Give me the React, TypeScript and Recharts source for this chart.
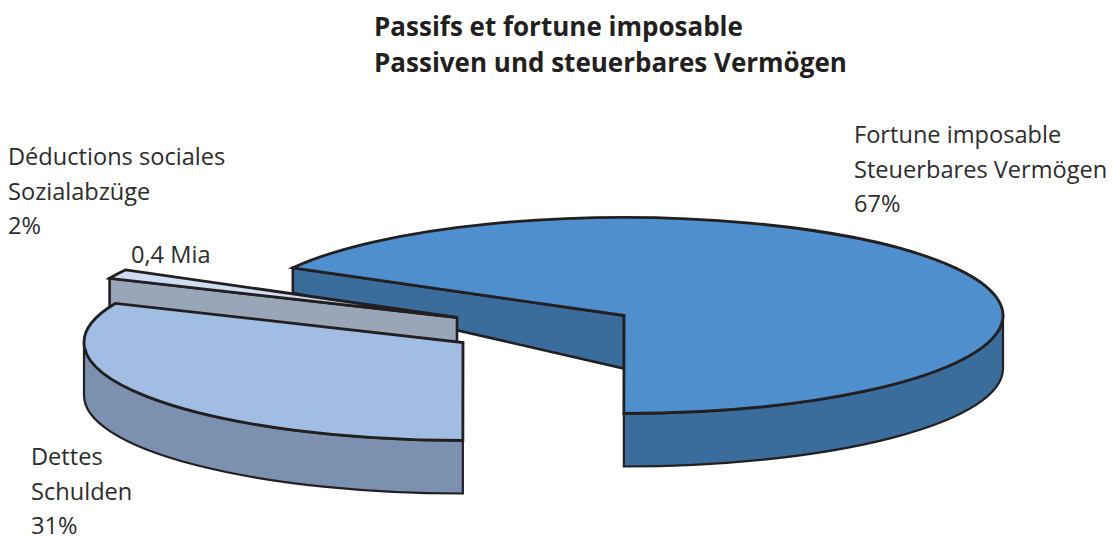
import React from 'react';
import { PieChart, Pie } from 'recharts';

// ---- data
const sliceNames = ['Fortune', 'Dettes', 'Deductions'];
const sliceValues = [17.4, 8.2, 0.4];
const valueLabels = ['17,4 Mia', '8,2 Mia', '0,4 Mia'];
const titleLines = ['Passifs et fortune imposable', 'Passiven und steuerbares Vermögen'];
const fortuneLines = ['Fortune imposable', 'Steuerbares Vermögen', '67%'];
const dettesLines = ['Dettes', 'Schulden', '31%'];
const deductionLines = ['Déductions sociales', 'Sozialabzüge', '2%'];

const chartData = sliceNames.map((name, i) => ({ name, value: sliceValues[i] }));

// ---- styling / layout
const W = 1118;
const H = 536;
const INK = '#231f20';
const TEXT = '#2d2c2e';
const FONT = '"Open Sans", "Noto Sans", sans-serif';
const CX = 624;
const CY = 315.5;
const RX = 379;
const RY = 98;
const DEPTH = 53;
const styles: Record<string, any> = {
  Fortune: { dx: 0, dy: 0, top: '#4f8fcd', side: '#3a6c9c', cut: { rear: 25, vertex: 53 } },
  Dettes: { dx: -161, dy: 27, top: '#a2bde3', side: '#7b91af', cut: null },
  Deductions: { dx: -167, dy: 2, top: '#cfddf2', side: '#99a6b8', cut: { rear: 28, vertex: 26 } },
};

const rad = (a: number) => (a * Math.PI) / 180;

const makeShape = (only: string) => (props: any) => {
  const { index, startAngle, endAngle, cx, cy } = props;
  const key = sliceNames[index];
  if (key !== only) return <g />;
  const s = styles[key];
  const ox = cx + s.dx;
  const oy = cy + s.dy;
  const pt = (a: number, extra = 0) =>
    [ox + RX * Math.cos(rad(a)), oy - RY * Math.sin(rad(a)) + extra] as const;
  const [sx, sy] = pt(startAngle);
  const [ex, ey] = pt(endAngle);
  const large = Math.abs(startAngle - endAngle) > 180 ? 1 : 0;
  const topPath = `M${ox},${oy} L${sx},${sy} A${RX},${RY} 0 ${large} 1 ${ex},${ey} Z`;

  let lo = endAngle;
  while (lo < 0) lo += 360;
  const hi = lo + Math.abs(startAngle - endAngle);
  const visLo = Math.max(lo, 180);
  const visHi = Math.min(hi, 360);
  let rimPath = '';
  if (visHi > visLo) {
    const [ax, ay] = pt(visLo);
    const [bx, by] = pt(visHi);
    rimPath = `M${ax},${ay} A${RX},${RY} 0 0 0 ${bx},${by} L${bx},${by + DEPTH} A${RX},${RY} 0 0 1 ${ax},${ay + DEPTH} Z`;
  }
  return (
    <g stroke={INK} strokeLinejoin="miter">
      {s.cut && (
        <path
          d={`M${sx},${sy} L${ox},${oy} L${ox},${oy + s.cut.vertex} L${sx},${sy + s.cut.rear} Z`}
          fill={s.side}
          strokeWidth={2.6}
        />
      )}
      {rimPath && <path d={rimPath} fill={s.side} strokeWidth={2.2} />}
      <path d={topPath} fill={s.top} strokeWidth={2.8} />
    </g>
  );
};

const Lines = ({ lines, x, y, step }: { lines: string[]; x: number; y: number; step: number }) => (
  <>
    {lines.map((t, i) => (
      <text key={t} x={x} y={y + i * step} fontFamily={FONT} fontSize={23.6} fill={TEXT}>
        {t}
      </text>
    ))}
  </>
);

// Slices are painted back to front, so each Pie draws one slice of the same scale.
const paintOrder = ['Fortune', 'Deductions', 'Dettes'];

export default function App() {
  return (
    <div style={{ position: 'absolute', left: 0, top: 0, width: W, height: H, background: '#fff' }}>
      <PieChart width={W} height={H} margin={{ top: 0, right: 0, bottom: 0, left: 0 }}>
        {paintOrder.map((name) => (
          <Pie
            key={name}
            data={chartData}
            dataKey="value"
            nameKey="name"
            cx={CX}
            cy={CY}
            innerRadius={0}
            outerRadius={RX}
            startAngle={150.9}
            endAngle={150.9 - 360}
            stroke="none"
            isAnimationActive={false}
            shape={makeShape(name)}
          />
        ))}
        {titleLines.map((t, i) => (
          <text key={t} x={374} y={36 + i * 35.5} fontFamily={FONT} fontSize={26} fontWeight={700} fill={INK}>
            {t}
          </text>
        ))}
        <Lines lines={fortuneLines} x={854} y={143} step={34.5} />
        <Lines lines={deductionLines} x={8} y={165} step={34.5} />
        <Lines lines={dettesLines} x={31} y={465} step={34.5} />
        <text x={740} y={318} fontFamily={FONT} fontSize={23.6} fill={TEXT}>{valueLabels[0]}</text>
        <text x={285} y={392} fontFamily={FONT} fontSize={23.6} fill={TEXT}>{valueLabels[1]}</text>
        <text x={131} y={263} fontFamily={FONT} fontSize={23.6} fill={TEXT}>{valueLabels[2]}</text>
      </PieChart>
    </div>
  );
}
